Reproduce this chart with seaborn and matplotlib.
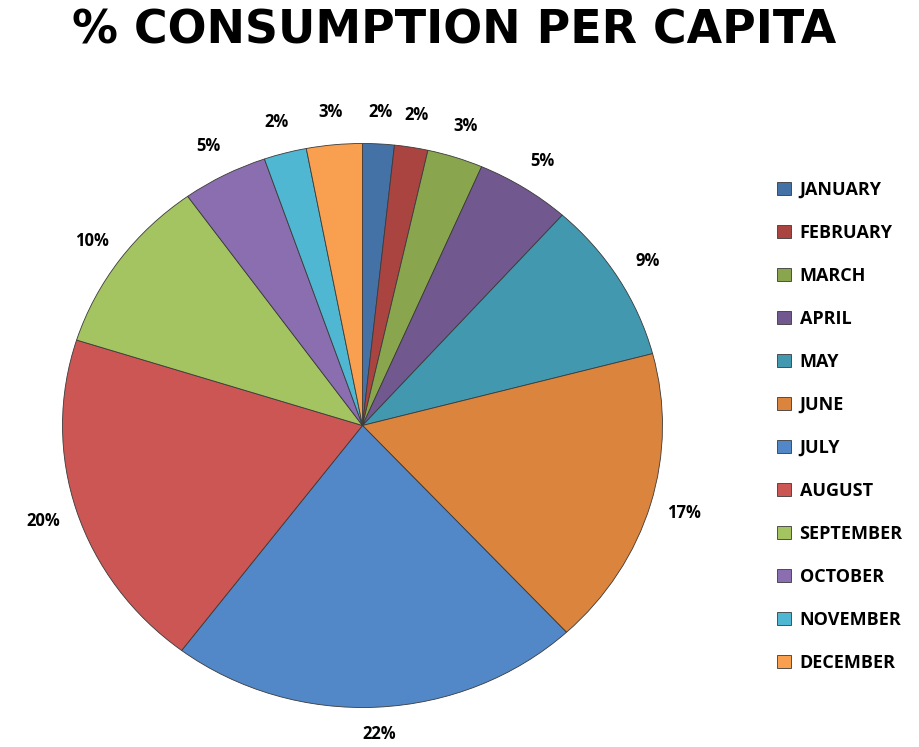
import matplotlib
matplotlib.use("Agg")
import matplotlib.pyplot as plt
import seaborn as sns

# data (share of yearly consumption, %)
months = ["JANUARY", "FEBRUARY", "MARCH", "APRIL", "MAY", "JUNE",
          "JULY", "AUGUST", "SEPTEMBER", "OCTOBER", "NOVEMBER", "DECEMBER"]
share = [1.7, 1.8, 3.0, 5.1, 9.3, 17.2, 22.2, 19.6, 10.2, 4.6, 2.3, 3.0]
month_colors = ["#4472A7", "#AA4441", "#89A54E", "#71588F", "#4198AF", "#DB843D",
                "#5288C8", "#CB5654", "#A3C460", "#8A6EAF", "#50B7D2", "#F8A050"]

sns.set_theme(style="white")
plt.rcParams["font.family"] = ["Open Sans", "DejaVu Sans"]
plt.rcParams["text.color"] = "black"

W, H = 919, 747
fig = plt.figure(figsize=(W / 100, H / 100), dpi=100)

# pie is a bit wider than tall in the reference
cx, cy, rx, ry = 362.5, 425.5, 300, 282
lim = 1.2
ax = fig.add_axes([(cx - lim * rx) / W, (H - cy - lim * ry) / H,
                   2 * lim * rx / W, 2 * lim * ry / H])

palette = sns.color_palette(month_colors)
wedges, texts, autotexts = ax.pie(
    share, colors=palette, startangle=90, counterclock=False,
    autopct="%1.0f%%", pctdistance=1.115,
    wedgeprops=dict(edgecolor="#3a3a3a", linewidth=0.6),
    textprops=dict(fontsize=12, fontweight="bold", color="black"))
ax.set_aspect("auto")
ax.set_xlim(-lim, lim)
ax.set_ylim(-lim, lim)
# bottom label sits right at the lower edge; keep it inside
autotexts[6].set_y(autotexts[6].get_position()[1] + 0.02)

fig.text(0.494, 0.958, "% CONSUMPTION PER CAPITA", ha="center", va="center",
         fontsize=33, fontweight="bold", color="black",
         family=["DejaVu Sans"])

fig.legend(wedges, months, loc="upper left", bbox_to_anchor=(768 / W, 1 - 172 / H),
           frameon=False, prop=dict(weight="bold", size=13),
           handlelength=0.75, handleheight=0.75, handletextpad=0.5,
           labelspacing=1.385, borderpad=0)

fig.savefig("out.png", dpi=100)
